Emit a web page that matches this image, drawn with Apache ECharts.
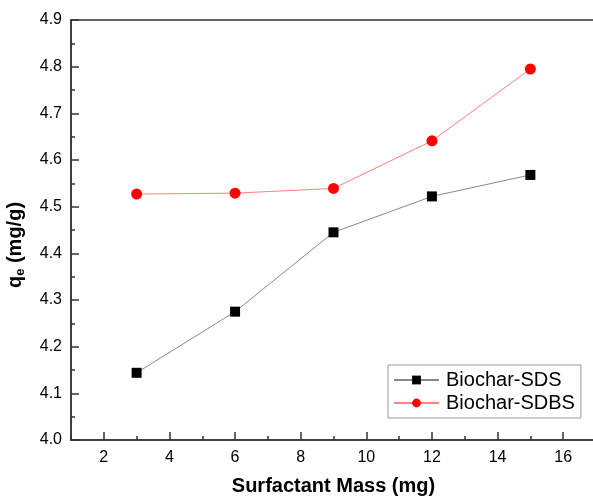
<!DOCTYPE html>
<html><head><meta charset="utf-8">
<script src="https://cdn.jsdelivr.net/npm/echarts@6/dist/echarts.min.js"></script>
<style>html,body{margin:0;padding:0;background:#fff}#c{width:593px;height:497px}</style>
</head><body><div id="c"></div>
<script>
const mass = [3, 6, 9, 12, 15];
const sds = [4.144, 4.275, 4.445, 4.522, 4.568];
const sdbs = [4.527, 4.529, 4.539, 4.641, 4.795];
const seriesNames = ['Biochar-SDS', 'Biochar-SDBS'];
const xMajorTicks = [2, 4, 6, 8, 10, 12, 14, 16];
const xMinorTicks = [1, 3, 5, 7, 9, 11, 13, 15, 17];

const chart = echarts.init(document.getElementById('c'));
const font = 'Liberation Sans, Arial, sans-serif';
const axisColor = '#333';
chart.setOption({
  animation: false,
  backgroundColor: '#fff',
  grid: {left: 71, top: 20, right: -3, bottom: 57, outerBoundsMode: 'none', containLabel: false,
    show: true, borderColor: axisColor, borderWidth: 1.5, backgroundColor: 'transparent'},
  legend: {
    left: 388, top: 365, orient: 'vertical', itemGap: 3,
    padding: [5, 6, 5, 5],
    borderColor: '#999', borderWidth: 1,
    itemWidth: 45, itemHeight: 11,
    textStyle: {fontFamily: font, fontSize: 20, color: '#000', padding: [0, 0, 0, 2]},
    data: seriesNames
  },
  xAxis: [{
    type: 'value', min: 1, max: 17,
    name: 'Surfactant Mass (mg)', nameLocation: 'middle', nameGap: 36,
    nameTextStyle: {fontFamily: font, fontSize: 20, fontWeight: 'bold', color: '#000'},
    axisLine: {onZero: false, lineStyle: {color: axisColor, width: 1.5}},
    axisTick: {inside: true, length: 8, customValues: xMajorTicks, lineStyle: {color: axisColor, width: 1.5}},
    axisLabel: {fontFamily: font, fontSize: 16, color: '#000', margin: 10, customValues: xMajorTicks},
    splitLine: {show: false}
  }, {
    type: 'value', min: 1, max: 17, position: 'bottom',
    axisLine: {show: false, onZero: false},
    axisTick: {inside: true, length: 4, customValues: xMinorTicks, lineStyle: {color: axisColor, width: 1.5}},
    axisLabel: {show: false},
    splitLine: {show: false}
  }],
  yAxis: {
    type: 'value', min: 4.0, max: 4.9, interval: 0.1,
    name: '{b|q}{s|e}{b| (mg/g)}', nameLocation: 'middle', nameGap: 44,
    nameTextStyle: {fontFamily: font, fontSize: 20, fontWeight: 'bold', color: '#000', padding: [0, 30, 0, 0],
      rich: {b: {fontFamily: font, fontSize: 20, fontWeight: 'bold', color: '#000'},
             s: {fontFamily: font, fontSize: 13, fontWeight: 'bold', color: '#000', verticalAlign: 'bottom', padding: [10, 0, 0, 0]}}},
    axisLine: {lineStyle: {color: axisColor, width: 1.5}},
    axisTick: {inside: true, length: 8, lineStyle: {color: axisColor, width: 1.5}},
    minorTick: {show: true, splitNumber: 2, length: 4, lineStyle: {color: axisColor, width: 1.5}},
    axisLabel: {fontFamily: font, fontSize: 16, color: '#000', margin: 9, formatter: v => v.toFixed(1)},
    splitLine: {show: false}
  },
  series: [
    {name: seriesNames[0], type: 'line', data: mass.map((x, i) => [x, sds[i]]),
      symbol: 'rect', symbolSize: 10,
      itemStyle: {color: '#000'}, lineStyle: {color: '#888', width: 1}},
    {name: seriesNames[1], type: 'line', data: mass.map((x, i) => [x, sdbs[i]]),
      symbol: 'circle', symbolSize: 11,
      itemStyle: {color: '#ff0000'}, lineStyle: {color: '#ff8080', width: 1}}
  ]
});
</script></body></html>
